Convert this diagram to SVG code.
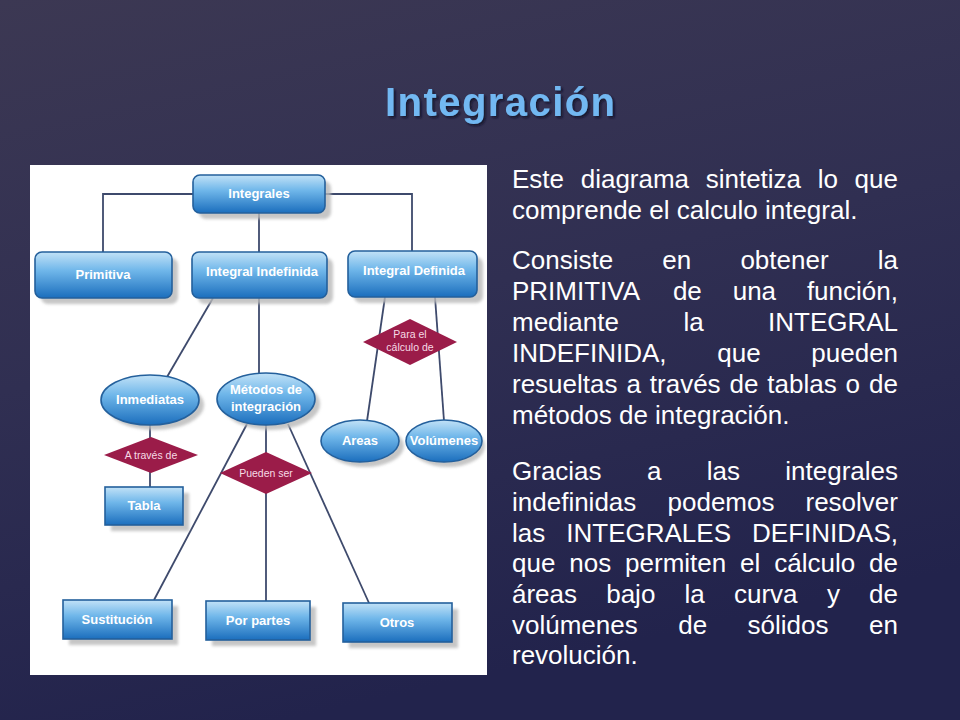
<svg xmlns="http://www.w3.org/2000/svg" width="960" height="720" viewBox="0 0 960 720">
  <defs>
    <linearGradient id="bg" x1="0" y1="0" x2="0.3" y2="1">
      <stop offset="0" stop-color="#3c3853"/>
      <stop offset="0.5" stop-color="#302f52"/>
      <stop offset="1" stop-color="#22234c"/>
    </linearGradient>
    <linearGradient id="blue" x1="0" y1="0" x2="0" y2="1">
      <stop offset="0" stop-color="#c2e2f7"/>
      <stop offset="0.4" stop-color="#70b7ea"/>
      <stop offset="1" stop-color="#1b6ebd"/>
    </linearGradient>
    <filter id="blur" x="-20%" y="-20%" width="140%" height="140%">
      <feGaussianBlur stdDeviation="1.6"/>
    </filter>
    <filter id="tshadow" x="-10%" y="-20%" width="120%" height="150%">
      <feDropShadow dx="2" dy="2" stdDeviation="1" flood-color="#101028" flood-opacity="0.8"/>
    </filter>
    <style>
      .node { fill: url(#blue); stroke: #24609c; stroke-width: 1.6; }
      .shadow { fill: #b8b8b8; opacity: 0.8; filter: url(#blur); }
      .dia { fill: #9b1c49; }
      .lbl { font-family: "Liberation Sans", Arial, sans-serif; font-size: 13px; font-weight: bold; fill: #ffffff; text-anchor: middle; }
      .dlbl { font-family: "Liberation Sans", Arial, sans-serif; font-size: 10.5px; fill: #f6dbe6; text-anchor: middle; }
      .conn { stroke: #3e4a6c; stroke-width: 1.8; fill: none; }
      .body { font-family: "Liberation Sans", Arial, sans-serif; font-size: 26px; fill: #ffffff; }
      .title { font-family: "Liberation Sans", Arial, sans-serif; font-size: 40px; font-weight: bold; fill: #72b8f2; text-anchor: middle; }
    </style>
  </defs>

  <rect x="0" y="0" width="960" height="720" fill="url(#bg)"/>

  <text class="title" x="500" y="116" filter="url(#tshadow)" textLength="230" lengthAdjust="spacing">Integración</text>

  <rect id="panel" x="30" y="165" width="457" height="510" fill="#ffffff"/>

  <g id="connectors">
    <path class="conn" d="M103,252 V194 H412 V251"/>
    <path class="conn" d="M259,213 V252"/>
    <path class="conn" d="M213,298 L167,377"/>
    <path class="conn" d="M259,298 V374"/>
    <path class="conn" d="M385,297 L367,421"/>
    <path class="conn" d="M435,297 L444,421"/>
    <path class="conn" d="M150,425 V487"/>
    <path class="conn" d="M266,425 V601"/>
    <path class="conn" d="M247,424 L154,600"/>
    <path class="conn" d="M288,424 L369,603"/>
  </g>

  <g id="integrales">
    <rect class="shadow" x="199" y="181" width="132" height="38" rx="7"/>
    <rect class="node" x="193" y="175" width="132" height="38" rx="7"/>
    <text class="lbl" x="259" y="198">Integrales</text>
  </g>
  <g id="primitiva">
    <rect class="shadow" x="41" y="258" width="137" height="46" rx="7"/>
    <rect class="node" x="35" y="252" width="137" height="46" rx="7"/>
    <text class="lbl" x="103" y="279">Primitiva</text>
  </g>
  <g id="integral-indefinida">
    <rect class="shadow" x="198" y="258" width="135" height="46" rx="7"/>
    <rect class="node" x="192" y="252" width="135" height="46" rx="7"/>
    <text class="lbl" x="262" y="276">Integral Indefinida</text>
  </g>
  <g id="integral-definida">
    <rect class="shadow" x="354" y="257" width="129" height="46" rx="7"/>
    <rect class="node" x="348" y="251" width="129" height="46" rx="7"/>
    <text class="lbl" x="414" y="275">Integral Definida</text>
  </g>

  <g id="para-el-calculo">
    <polygon class="dia" points="410,319 457,342 410,365 363,342"/>
    <text class="dlbl" x="410" y="338">Para el</text>
    <text class="dlbl" x="410" y="351">cálculo de</text>
  </g>

  <g id="inmediatas">
    <ellipse class="shadow" cx="155" cy="405" rx="49" ry="25"/>
    <ellipse class="node" cx="150" cy="400" rx="49" ry="25"/>
    <text class="lbl" x="150" y="404">Inmediatas</text>
  </g>
  <g id="metodos">
    <ellipse class="shadow" cx="271" cy="404" rx="49" ry="26"/>
    <ellipse class="node" cx="266" cy="399" rx="49" ry="26"/>
    <text class="lbl" x="266" y="394">Métodos de</text>
    <text class="lbl" x="266" y="411">integración</text>
  </g>
  <g id="areas">
    <ellipse class="shadow" cx="365" cy="446" rx="39" ry="21"/>
    <ellipse class="node" cx="360" cy="441" rx="39" ry="21"/>
    <text class="lbl" x="360" y="445">Areas</text>
  </g>
  <g id="volumenes">
    <ellipse class="shadow" cx="448" cy="446" rx="37" ry="21"/>
    <ellipse class="node" cx="444" cy="441" rx="38" ry="21"/>
    <text class="lbl" x="444" y="445">Volúmenes</text>
  </g>

  <g id="a-traves-de">
    <polygon class="dia" points="151,437 198,455 151,473 104,455"/>
    <text class="dlbl" x="151" y="459">A través de</text>
  </g>
  <g id="pueden-ser">
    <polygon class="dia" points="266,452 312,473 266,494 220,473"/>
    <text class="dlbl" x="266" y="477">Pueden ser</text>
  </g>

  <g id="tabla">
    <rect class="shadow" x="111" y="493" width="78" height="38"/>
    <rect class="node" x="105" y="487" width="78" height="38"/>
    <text class="lbl" x="144" y="510">Tabla</text>
  </g>
  <g id="sustitucion">
    <rect class="shadow" x="69" y="606" width="109" height="39"/>
    <rect class="node" x="63" y="600" width="109" height="39"/>
    <text class="lbl" x="117" y="624">Sustitución</text>
  </g>
  <g id="por-partes">
    <rect class="shadow" x="212" y="607" width="104" height="39"/>
    <rect class="node" x="206" y="601" width="104" height="39"/>
    <text class="lbl" x="258" y="625">Por partes</text>
  </g>
  <g id="otros">
    <rect class="shadow" x="349" y="609" width="109" height="39"/>
    <rect class="node" x="343" y="603" width="109" height="39"/>
    <text class="lbl" x="397" y="627">Otros</text>
  </g>

  <g id="texto">
    <text class="body" y="188"><tspan x="512">Este</tspan><tspan x="580.7">diagrama</tspan><tspan x="705.7">sintetiza</tspan><tspan x="817.8">lo</tspan><tspan x="854.6">que</tspan></text>
    <text class="body" x="512" y="219">comprende el calculo integral.</text>

    <text class="body" y="269"><tspan x="512">Consiste</tspan><tspan x="662.3">en</tspan><tspan x="740.4">obtener</tspan><tspan x="877.8">la</tspan></text>
    <text class="body" y="300"><tspan x="512">PRIMITIVA</tspan><tspan x="672.9">de</tspan><tspan x="732.7">una</tspan><tspan x="806.9">función,</tspan></text>
    <text class="body" y="331"><tspan x="512">mediante</tspan><tspan x="683.4">la</tspan><tspan x="768">INTEGRAL</tspan></text>
    <text class="body" y="362"><tspan x="512">INDEFINIDA,</tspan><tspan x="717.3">que</tspan><tspan x="811.3">pueden</tspan></text>
    <text class="body" y="393"><tspan x="512">resueltas</tspan><tspan x="626.4">a</tspan><tspan x="649.8">través</tspan><tspan x="729.5">de</tspan><tspan x="767.3">tablas</tspan><tspan x="845.6">o</tspan><tspan x="869.1">de</tspan></text>
    <text class="body" x="512" y="424">métodos de integración.</text>

    <text class="body" y="480"><tspan x="512">Gracias</tspan><tspan x="646.9">a</tspan><tspan x="706.8">las</tspan><tspan x="785.3">integrales</tspan></text>
    <text class="body" y="511"><tspan x="512">indefinidas</tspan><tspan x="667.5">podemos</tspan><tspan x="805.5">resolver</tspan></text>
    <text class="body" y="541.5"><tspan x="512">las</tspan><tspan x="566.3">INTEGRALES</tspan><tspan x="752.1">DEFINIDAS,</tspan></text>
    <text class="body" y="572"><tspan x="512">que</tspan><tspan x="569.3">nos</tspan><tspan x="625.1">permiten</tspan><tspan x="740.1">el</tspan><tspan x="774.3">cálculo</tspan><tspan x="869.1">de</tspan></text>
    <text class="body" y="603"><tspan x="512">áreas</tspan><tspan x="606.2">bajo</tspan><tspan x="684.6">la</tspan><tspan x="734">curva</tspan><tspan x="826.9">y</tspan><tspan x="869.1">de</tspan></text>
    <text class="body" y="633.5"><tspan x="512">volúmenes</tspan><tspan x="678.2">de</tspan><tspan x="747.6">sólidos</tspan><tspan x="869.1">en</tspan></text>
    <text class="body" x="512" y="664">revolución.</text>
  </g>
</svg>
